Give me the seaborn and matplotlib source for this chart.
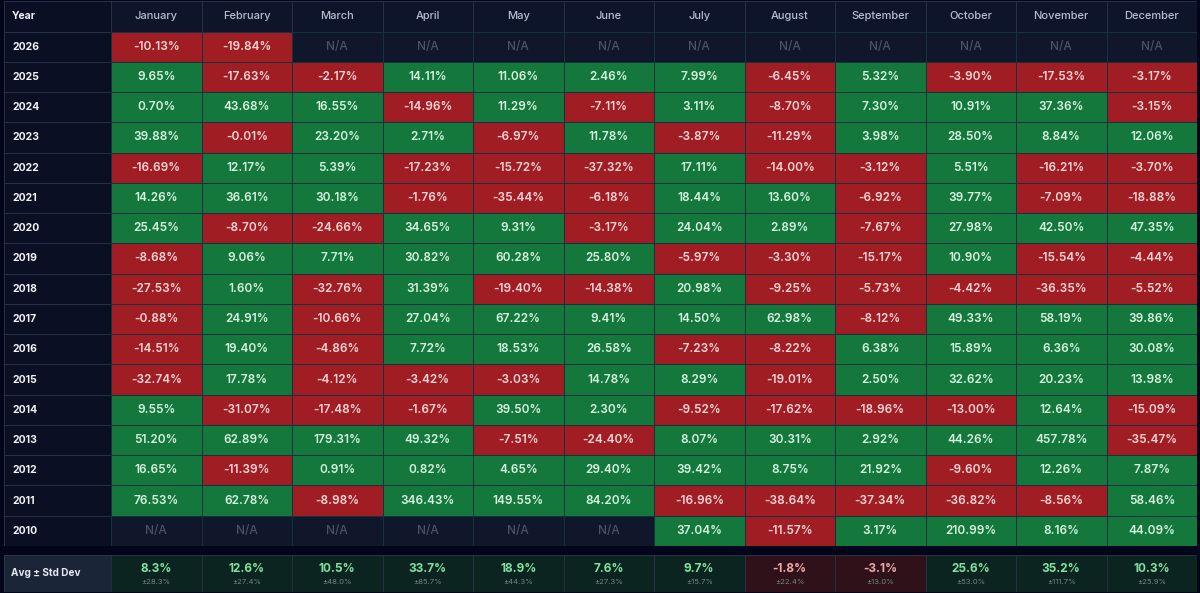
"""Monthly returns table, drawn as a set of seaborn heatmaps."""

import matplotlib
matplotlib.use("Agg")
import matplotlib.pyplot as plt
import numpy as np
import seaborn as sns
from matplotlib.colors import ListedColormap

W, H = 1200, 593
NA = np.nan

months = ["January", "February", "March", "April", "May", "June", "July",
          "August", "September", "October", "November", "December"]
years = [2026, 2025, 2024, 2023, 2022, 2021, 2020, 2019, 2018, 2017, 2016,
         2015, 2014, 2013, 2012, 2011, 2010]

r2026 = [-10.13, -19.84, NA, NA, NA, NA, NA, NA, NA, NA, NA, NA]
r2025 = [9.65, -17.63, -2.17, 14.11, 11.06, 2.46, 7.99, -6.45, 5.32, -3.90, -17.53, -3.17]
r2024 = [0.70, 43.68, 16.55, -14.96, 11.29, -7.11, 3.11, -8.70, 7.30, 10.91, 37.36, -3.15]
r2023 = [39.88, -0.01, 23.20, 2.71, -6.97, 11.78, -3.87, -11.29, 3.98, 28.50, 8.84, 12.06]
r2022 = [-16.69, 12.17, 5.39, -17.23, -15.72, -37.32, 17.11, -14.00, -3.12, 5.51, -16.21, -3.70]
r2021 = [14.26, 36.61, 30.18, -1.76, -35.44, -6.18, 18.44, 13.60, -6.92, 39.77, -7.09, -18.88]
r2020 = [25.45, -8.70, -24.66, 34.65, 9.31, -3.17, 24.04, 2.89, -7.67, 27.98, 42.50, 47.35]
r2019 = [-8.68, 9.06, 7.71, 30.82, 60.28, 25.80, -5.97, -3.30, -15.17, 10.90, -15.54, -4.44]
r2018 = [-27.53, 1.60, -32.76, 31.39, -19.40, -14.38, 20.98, -9.25, -5.73, -4.42, -36.35, -5.52]
r2017 = [-0.88, 24.91, -10.66, 27.04, 67.22, 9.41, 14.50, 62.98, -8.12, 49.33, 58.19, 39.86]
r2016 = [-14.51, 19.40, -4.86, 7.72, 18.53, 26.58, -7.23, -8.22, 6.38, 15.89, 6.36, 30.08]
r2015 = [-32.74, 17.78, -4.12, -3.42, -3.03, 14.78, 8.29, -19.01, 2.50, 32.62, 20.23, 13.98]
r2014 = [9.55, -31.07, -17.48, -1.67, 39.50, 2.30, -9.52, -17.62, -18.96, -13.00, 12.64, -15.09]
r2013 = [51.20, 62.89, 179.31, 49.32, -7.51, -24.40, 8.07, 30.31, 2.92, 44.26, 457.78, -35.47]
r2012 = [16.65, -11.39, 0.91, 0.82, 4.65, 29.40, 39.42, 8.75, 21.92, -9.60, 12.26, 7.87]
r2011 = [76.53, 62.78, -8.98, 346.43, 149.55, 84.20, -16.96, -38.64, -37.34, -36.82, -8.56, 58.46]
r2010 = [NA, NA, NA, NA, NA, NA, 37.04, -11.57, 3.17, 210.99, 8.16, 44.09]

avg = [8.3, 12.6, 10.5, 33.7, 18.9, 7.6, 9.7, -1.8, -3.1, 25.6, 35.2, 10.3]
std = [28.3, 27.4, 48.0, 85.7, 44.3, 27.3, 15.7, 22.4, 13.0, 53.0, 111.7, 25.9]

returns = np.array([r2026, r2025, r2024, r2023, r2022, r2021, r2020, r2019, r2018,
                    r2017, r2016, r2015, r2014, r2013, r2012, r2011, r2010])

BG = "#03061a"
HEAD = "#0e1429"
YEAR = "#0a0f23"
NA_CELL = "#10172a"
GREEN = "#14783c"
RED = "#a01d23"
DARK_LINE = "#252f48"
CELL_LINE = "#16303e"

plt.rcParams["font.family"] = ["Inter", "DejaVu Sans"]


def axes_px(fig, left, top, right, bottom):
    return fig.add_axes([left / W, 1 - bottom / H, (right - left) / W, (bottom - top) / H])


def table(ax, codes, labels, colors, line, size=8.5, weight="semibold", text_color="white"):
    sns.heatmap(codes, ax=ax, cmap=ListedColormap(colors), vmin=-0.5, vmax=len(colors) - 0.5,
                annot=labels, fmt="", cbar=False, linewidths=0.45, linecolor=line,
                xticklabels=False, yticklabels=False, square=False,
                annot_kws={"fontsize": size, "fontweight": weight, "color": text_color})
    ax.set_xlabel("")
    ax.set_ylabel("")
    return ax


fig = plt.figure(figsize=(W / 100, H / 100), dpi=100, facecolor=BG)

# header row
ax_year_head = axes_px(fig, 4, 1, 111, 31.5)
table(ax_year_head, np.zeros((1, 1)), np.array([["Year"]]), [YEAR], DARK_LINE,
      size=7.5, weight="bold", text_color="#f1f3f7")
ax_year_head.texts[0].set_ha("left")
ax_year_head.texts[0].set_x(0.075)

ax_head = axes_px(fig, 111, 1, 1197, 31.5)
table(ax_head, np.zeros((1, 12)), np.array([months]), [HEAD], DARK_LINE,
      size=8, weight="medium", text_color="#b6bdcf")

# year column
ax_years = axes_px(fig, 4, 31.5, 111, 546)
year_labels = np.array([[str(y)] for y in years])
table(ax_years, np.zeros((len(years), 1)), year_labels, [YEAR], DARK_LINE,
      size=7.5, weight="bold", text_color="#f1f3f7")
for t in ax_years.texts:
    t.set_ha("left")
    t.set_x(0.075)

# main grid: 0 = no data, 1 = loss, 2 = gain
codes = np.where(np.isnan(returns), 0, np.where(returns < 0, 1, 2))
labels = np.array([["N/A" if np.isnan(v) else f"{v:.2f}%" for v in row] for row in returns])
ax_main = axes_px(fig, 111, 31.5, 1197, 546)
table(ax_main, codes, labels, [NA_CELL, RED, GREEN], CELL_LINE)
for t, code in zip(ax_main.texts, codes.ravel()):
    if code == 0:
        t.set_color("#4a5368")
        t.set_fontweight("medium")
    elif code == 1:
        t.set_color("#f9d6d6")
    else:
        t.set_color("#d6f3df")

# summary row
ax_avg_label = axes_px(fig, 4, 555, 111, 592)
table(ax_avg_label, np.zeros((1, 1)), np.array([["Avg ± Std Dev"]]), ["#1a2538"], "#2a3550",
      size=7.2, weight="bold", text_color="#e6e9f0")
ax_avg_label.texts[0].set_ha("left")
ax_avg_label.texts[0].set_x(0.065)

avg_arr = np.array([avg])
ax_avg = axes_px(fig, 111, 555, 1197, 592)
avg_labels = np.array([[f"{v:.1f}%" for v in avg]])
table(ax_avg, (avg_arr < 0).astype(int), avg_labels, ["#0c2420", "#2f1119"], "#24303f",
      size=8.5, weight="bold")
for i, t in enumerate(ax_avg.texts):
    t.set_y(0.38)
    t.set_color("#f0a8a8" if avg[i] < 0 else "#7fe3a0")
    ax_avg.text(i + 0.5, 0.73, f"±{std[i]:.1f}%", ha="center", va="center",
                fontsize=5.5, color="#76838c")

fig.savefig("out.png", dpi=100, facecolor=BG)
